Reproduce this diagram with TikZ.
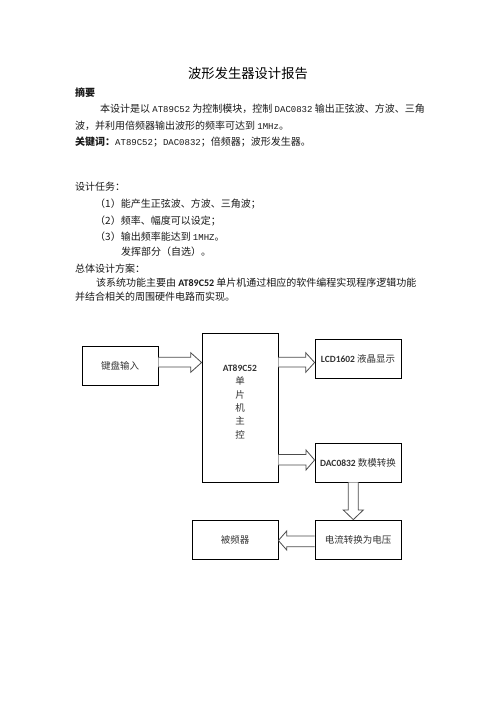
\documentclass[tikz,border=0pt]{standalone}
\usepackage{fontspec}
\setmainfont{Noto Sans CJK SC}
\newfontfamily\monolat{Liberation Mono}[Scale=0.9]
\newfontfamily\sanslat{Carlito}
\newcommand{\mlat}[1]{{\monolat #1}}
\newcommand{\slat}[1]{{\sanslat\bfseries #1}}
\begin{document}
\begin{tikzpicture}[x=1pt,y=-1pt,
  txt/.style={anchor=west,inner sep=0pt,font=\fontsize{10}{12}\selectfont,text=black!90},
  box/.style={draw=black,line width=0.8pt,inner sep=0pt,font=\fontsize{9.5}{11}\selectfont,text=black!80},
  blk/.style={draw=black!70,line width=0.8pt,fill=white,line join=miter}
]
\useasboundingbox[fill=white] (0,0) rectangle (496,702);

% ---- text part ----
\node[inner sep=0pt,font=\fontsize{13.3}{15}\selectfont] (title) at (248,73) {波形发生器设计报告};
\node[txt,font=\fontsize{10}{12}\selectfont\bfseries] (abs) at (75,93) {摘要};
\node[txt] (a1) at (100,109) {本设计是以 \mlat{AT89C52} 为控制模块，控制 \mlat{DAC0832} 输出正弦波、方波、三角};
\node[txt] (a2) at (75,126) {波，并利用倍频器输出波形的频率可达到 \mlat{1MHz}。};
\node[txt] (a3) at (75,142) {\textbf{关键词：}\mlat{AT89C52}；\mlat{DAC0832}；倍频器；波形发生器。};

\node[txt] (t0) at (75,187) {设计任务：};
\node[txt] (t1) at (95,204) {（1）能产生正弦波、方波、三角波；};
\node[txt] (t2) at (95,221) {（2）频率、幅度可以设定；};
\node[txt] (t3) at (95,237) {（3）输出频率能达到 \mlat{1MHZ}。};
\node[txt] (t4) at (121,252) {发挥部分（自选）。};
\node[txt] (p0) at (75,269) {总体设计方案：};
\node[txt] (p1) at (96,283) {该系统功能主要由 \slat{AT89C52} 单片机通过相应的软件编程实现程序逻辑功能};
\node[txt] (p2) at (75,297) {并结合相关的周围硬件电路而实现。};

% ---- diagram ----
\node[box,minimum width=76pt,minimum height=39pt] (kb) at (120,365.5) {键盘输入};
\node[box,minimum width=76pt,minimum height=149pt] (mcu) at (240,407.5) {};
\node[inner sep=0pt,align=center,font=\fontsize{9.5}{13.3}\selectfont,text=black!80] (mcut) at (240,402) {\slat{AT89C52}\\单\\片\\机\\主\\控};
\node[box,minimum width=86pt,minimum height=39pt] (lcd) at (358,358.5) {\slat{LCD1602} 液晶显示};
\node[box,minimum width=86pt,minimum height=39pt] (dac) at (358,462.5) {\slat{DAC0832} 数模转换};
\node[box,minimum width=86pt,minimum height=39pt] (iv) at (358,539.5) {电流转换为电压};
\node[box,minimum width=86pt,minimum height=39pt] (mul) at (235,539.5) {被频器};

% block arrows
\draw[blk] (kb.east |- 0,357.3) -- (190.7,357.3) -- (190.7,352.7) -- (mcu.west |- 0,362.5)
  -- (190.7,372.3) -- (190.7,367) -- (kb.east |- 0,367);
\draw[blk] (mcu.east |- 0,357.3) -- (305.7,357.3) -- (305.7,352.7) -- (lcd.west |- 0,362.5)
  -- (305.7,372.3) -- (305.7,367) -- (mcu.east |- 0,367);
\draw[blk] (mcu.east |- 0,454.5) -- (306,454.5) -- (306,450) -- (dac.west |- 0,460)
  -- (306,470) -- (306,465) -- (mcu.east |- 0,465);
\draw[blk] (348.3,0 |- dac.south) -- (348.3,510) -- (343.3,510) -- (353.3,0 |- iv.north)
  -- (363.3,510) -- (358.3,510) -- (358.3,0 |- dac.south);
\draw[blk] (iv.west |- 0,536) -- (286.7,536) -- (286.7,531) -- (mul.east |- 0,540.5)
  -- (286.7,550) -- (286.7,546.7) -- (iv.west |- 0,546.7);
\end{tikzpicture}
\end{document}
